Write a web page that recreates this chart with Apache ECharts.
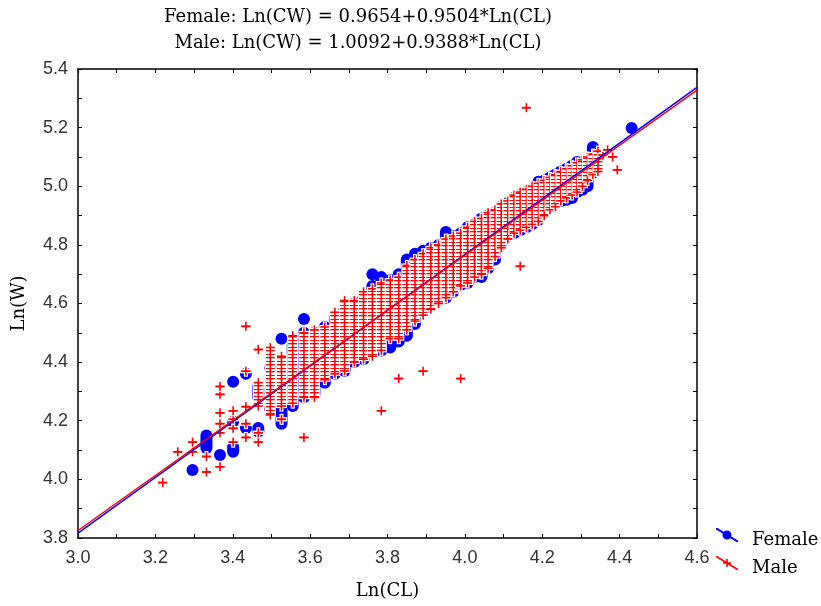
<!DOCTYPE html>
<html><head><meta charset="utf-8">
<script src="https://cdn.jsdelivr.net/npm/echarts@6/dist/echarts.min.js"></script>
<style>html,body{margin:0;padding:0;background:#fff}#c{width:821px;height:606px}</style>
</head><body><div id="c"></div>
<script>
const titleLines = ['Female: Ln(CW) = 0.9654+0.9504*Ln(CL)', 'Male: Ln(CW) = 1.0092+0.9388*Ln(CL)'];
const xAxisName = 'Ln(CL)';
const yAxisName = 'Ln(W)';
const seriesNames = ['Female', 'Male'];

// Male observations: x = Ln(CL), stacked runs of Ln(W) from low to high (single points have low = high)
const maleX    = [3.219,3.258,3.296,3.296,3.332,3.332,3.367,3.367,3.367,3.367,3.367,3.367,3.401,3.401,3.401,3.401,3.434,3.434,3.434,3.434,3.434,3.466,3.466,3.466,3.466,3.497,3.526,3.526,3.555,3.584,3.584,3.611,3.638,3.664,3.689,3.714,3.738,3.761,3.784,3.784,3.807,3.829,3.829,3.850,3.871,3.892,3.892,3.912,3.932,3.951,3.970,3.989,3.989,4.007,4.025,4.043,4.060,4.078,4.094,4.111,4.127,4.143,4.143,4.159,4.159,4.174,4.190,4.205,4.220,4.234,4.248,4.263,4.277,4.290,4.304,4.317,4.331,4.344,4.357,4.369,4.382,4.394];
const maleLow  = [3.989,4.094,4.094,4.127,4.025,4.078,4.043,4.159,4.190,4.227,4.290,4.317,4.127,4.174,4.205,4.234,4.143,4.190,4.248,4.369,4.522,4.127,4.159,4.25,4.443,4.22,4.205,4.25,4.26,4.143,4.28,4.28,4.34,4.36,4.37,4.40,4.41,4.42,4.234,4.44,4.48,4.344,4.48,4.51,4.54,4.369,4.56,4.58,4.60,4.62,4.64,4.344,4.66,4.67,4.69,4.70,4.72,4.76,4.79,4.82,4.84,4.727,4.85,5.268,4.86,4.87,4.88,4.90,4.92,4.93,4.95,4.96,4.97,4.98,5.00,5.02,5.04,5.05,5.106,5.124,5.100,5.056];
const maleHigh = [3.989,4.094,4.094,4.127,4.025,4.078,4.043,4.159,4.190,4.227,4.290,4.317,4.127,4.174,4.205,4.234,4.143,4.190,4.248,4.369,4.522,4.127,4.159,4.33,4.443,4.45,4.205,4.42,4.49,4.143,4.50,4.51,4.52,4.57,4.61,4.61,4.64,4.65,4.234,4.67,4.68,4.344,4.69,4.73,4.75,4.369,4.77,4.79,4.80,4.82,4.83,4.344,4.84,4.86,4.88,4.89,4.91,4.92,4.94,4.95,4.97,4.727,4.98,5.268,4.99,5.00,5.01,5.02,5.03,5.04,5.05,5.06,5.07,5.08,5.09,5.10,5.11,5.12,5.106,5.124,5.100,5.056];

// Female observations
const femaleX    = [3.296,3.332,3.367,3.401,3.401,3.401,3.434,3.434,3.466,3.466,3.497,3.497,3.526,3.526,3.555,3.584,3.584,3.611,3.638,3.664,3.689,3.714,3.738,3.761,3.761,3.784,3.807,3.829,3.850,3.871,3.892,3.912,3.932,3.951,3.970,3.989,4.007,4.025,4.043,4.060,4.078,4.094,4.111,4.127,4.143,4.159,4.174,4.190,4.205,4.220,4.234,4.248,4.263,4.277,4.290,4.304,4.317,4.331,4.431];
const femaleLow  = [4.032,4.107,4.083,4.094,4.197,4.333,4.175,4.36,4.163,4.28,4.24,4.38,4.19,4.48,4.25,4.28,4.547,4.29,4.33,4.36,4.37,4.40,4.41,4.44,4.70,4.44,4.45,4.47,4.49,4.53,4.575,4.60,4.62,4.62,4.64,4.663,4.67,4.69,4.69,4.72,4.75,4.80,4.83,4.84,4.85,4.86,4.87,4.885,4.91,4.93,4.943,4.95,4.954,4.96,4.98,4.988,5.00,5.046,5.199];
const femaleHigh = [4.032,4.15,4.083,4.111,4.197,4.333,4.175,4.36,4.175,4.316,4.24,4.38,4.26,4.48,4.46,4.50,4.547,4.50,4.52,4.55,4.58,4.60,4.62,4.66,4.70,4.69,4.68,4.70,4.75,4.77,4.78,4.79,4.80,4.844,4.83,4.84,4.86,4.87,4.89,4.90,4.91,4.93,4.943,4.96,4.97,4.98,4.99,5.015,5.02,5.03,5.04,5.05,5.06,5.07,5.083,5.08,5.08,5.134,5.199];

// Fitted regression lines (end points at the axis limits)
const fitX = [3.0, 4.6];
const femaleFitY = [3.8166, 5.3372];
const maleFitY = [3.8256, 5.3277];

const maleData = maleX.map((x, i) => [x, maleLow[i], maleHigh[i]]);
const femaleData = femaleX.map((x, i) => [x, femaleLow[i], femaleHigh[i]]);

const BLUE = '#0000ff', RED = '#ff0000';

const pat = document.createElement('canvas');
pat.width = 4; pat.height = 7;
(function(){
  const g = pat.getContext('2d');
  g.fillStyle = '#ffffff'; g.fillRect(0,0,4,7);
  g.fillStyle = RED; g.fillRect(0,0,4,1); g.fillRect(0,4,4,1);
  g.fillStyle = 'rgba(255,0,0,0.35)'; g.fillRect(0,1,4,1);
})();

function renderFemale(params, api) {
  const x = api.value(0);
  const p1 = api.coord([x, api.value(1)]);
  const p2 = api.coord([x, api.value(2)]);
  const r = 6;
  return {
    type: 'rect',
    shape: { x: p1[0] - r, y: p2[1] - r, width: 2 * r, height: p1[1] - p2[1] + 2 * r, r: r },
    style: { fill: BLUE }
  };
}

function renderMale(params, api) {
  const x = api.value(0);
  const p1 = api.coord([x, api.value(1)]);
  const p2 = api.coord([x, api.value(2)]);
  const a = 4.5, cx = p1[0], yb = p1[1], yt = p2[1];
  const kids = [];
  const white = { stroke: '#ffffff', lineWidth: 4 };
  const red = { stroke: RED, lineWidth: 1.6 };
  kids.push({ type: 'line', shape: { x1: cx, y1: yt - a - 1, x2: cx, y2: yb + a + 1 }, style: white });
  kids.push({ type: 'line', shape: { x1: cx - a - 1, y1: yt, x2: cx + a + 1, y2: yt }, style: white });
  kids.push({ type: 'line', shape: { x1: cx - a - 1, y1: yb, x2: cx + a + 1, y2: yb }, style: white });
  if (yb - yt > 0.5) {
    kids.push({ type: 'rect', shape: { x: cx - a - 1, y: yt, width: 2 * a + 2, height: yb - yt }, style: { fill: '#ffffff' } });
    kids.push({ type: 'rect', shape: { x: cx - a, y: yt, width: 2 * a, height: yb - yt }, style: { fill: { image: pat, repeat: 'repeat' } } });
  }
  kids.push({ type: 'line', shape: { x1: cx, y1: yt - a, x2: cx, y2: yb + a }, style: red });
  kids.push({ type: 'line', shape: { x1: cx - a, y1: yt, x2: cx + a, y2: yt }, style: red });
  kids.push({ type: 'line', shape: { x1: cx - a, y1: yb, x2: cx + a, y2: yb }, style: red });
  return { type: 'group', children: kids };
}

const axisCommon = {
  type: 'value',
  interval: 0.2,
  axisLine: { show: true, onZero: false, lineStyle: { color: '#000', width: 1.5 } },
  axisTick: { show: true, inside: true, length: 4, lineStyle: { color: '#000', width: 1 } },
  minorTick: { show: true, splitNumber: 2, length: 4, lineStyle: { color: '#000', width: 1 } },
  splitLine: { show: false },
  axisLabel: { fontFamily: 'Liberation Sans, Arial, sans-serif', fontSize: 18, color: '#333', formatter: v => v.toFixed(1) }
};

const legendText = { fontFamily: 'DejaVu Serif', fontSize: 18, color: '#000', padding: [0, 0, 0, 9] };
// icons: the drawn stroke sits in the upper part of a 22x24 box (last sub-path is a dot-sized anchor at the bottom)
const femaleIcon = 'path://M0,0 L1.5,0 L22,12.5 L22,14 L20.5,14 L0,1.5 Z M6.5,7 A4.5,4.5 0 1 1 15.5,7 A4.5,4.5 0 1 1 6.5,7 Z M21.9,23.9 L22,23.9 L22,24 Z';
const maleIcon = 'path://M0,0 L1.2,0 L22,12.8 L22,14 L20.8,14 L0,1.2 Z M7,6.2 L15,6.2 L15,7.8 L7,7.8 Z M10.2,3 L11.8,3 L11.8,11 L10.2,11 Z M21.9,23.9 L22,23.9 L22,24 Z';

const chart = echarts.init(document.getElementById('c'), null, { renderer: 'canvas' });
chart.setOption({
  animation: false,
  backgroundColor: '#ffffff',
  title: {
    text: titleLines.join('\n'),
    left: 358, top: 4, textAlign: 'center', padding: 0,
    textStyle: { fontFamily: 'DejaVu Serif', fontSize: 18, fontWeight: 'normal', color: '#000', lineHeight: 26 }
  },
  grid: { left: 78, right: 124, top: 69, bottom: 68 },
  xAxis: [
    Object.assign({}, axisCommon, { min: 3.0, max: 4.6, position: 'bottom',
      axisLabel: Object.assign({}, axisCommon.axisLabel, { margin: 11 }),
      name: xAxisName, nameLocation: 'middle', nameGap: 44,
      nameTextStyle: { fontFamily: 'DejaVu Serif', fontSize: 18, color: '#000' } }),
    Object.assign({}, axisCommon, { min: 3.0, max: 4.6, position: 'top', axisLabel: { show: false } })
  ],
  yAxis: [
    Object.assign({}, axisCommon, { min: 3.8, max: 5.4, position: 'left',
      axisLabel: Object.assign({}, axisCommon.axisLabel, { margin: 10 }),
      name: yAxisName, nameLocation: 'middle', nameGap: 50, nameRotate: 90,
      nameTextStyle: { fontFamily: 'DejaVu Serif', fontSize: 18, color: '#000' } }),
    Object.assign({}, axisCommon, { min: 3.8, max: 5.4, position: 'right', axisLabel: { show: false } })
  ],
  legend: [
    { orient: 'vertical', left: 716, top: 528, padding: 0, itemWidth: 22, itemHeight: 24,
      textStyle: legendText, data: [{ name: seriesNames[0], icon: femaleIcon }] },
    { orient: 'vertical', left: 716, top: 556, padding: 0, itemWidth: 22, itemHeight: 24,
      textStyle: legendText, data: [{ name: seriesNames[1], icon: maleIcon }] }
  ],
  series: [
    { name: seriesNames[0], type: 'custom', z: 1, clip: true, renderItem: renderFemale,
      itemStyle: { color: BLUE }, encode: { x: 0, y: [1, 2] }, data: femaleData },
    { name: seriesNames[1], type: 'custom', z: 2, clip: true, renderItem: renderMale,
      itemStyle: { color: RED }, encode: { x: 0, y: [1, 2] }, data: maleData },
    { name: 'Female fit', type: 'line', z: 3, symbol: 'none', silent: true,
      lineStyle: { color: BLUE, width: 1.5 }, data: fitX.map((x, i) => [x, femaleFitY[i]]) },
    { name: 'Male fit', type: 'line', z: 4, symbol: 'none', silent: true,
      lineStyle: { color: RED, width: 1.5 }, data: fitX.map((x, i) => [x, maleFitY[i]]) }
  ]
});
</script>
</body></html>
